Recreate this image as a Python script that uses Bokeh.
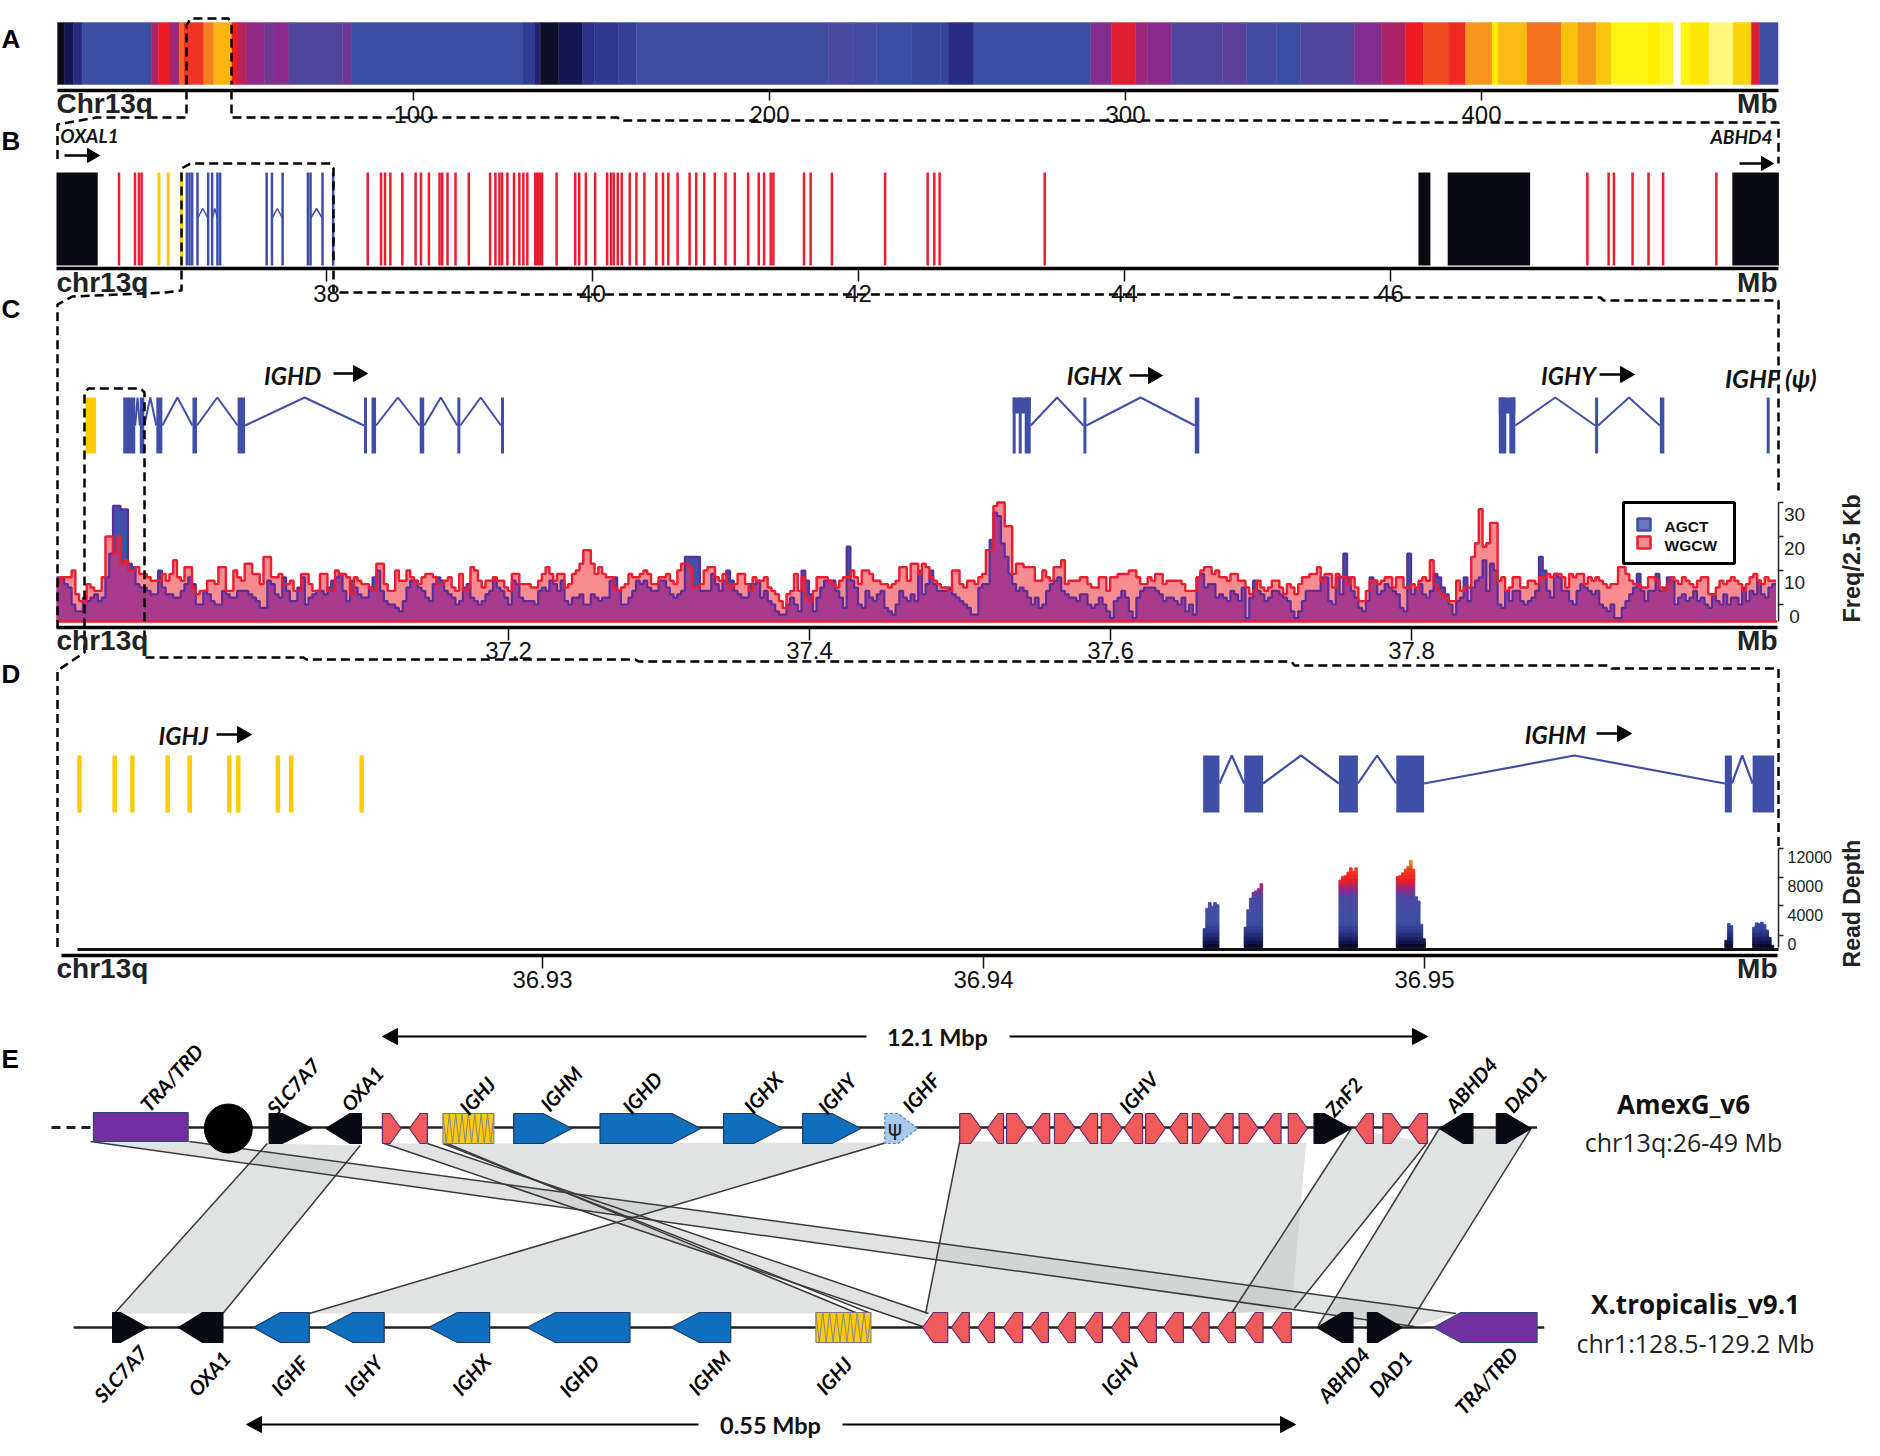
from bokeh.plotting import figure
from bokeh.models import Range1d, LinearAxis, FixedTicker, LinearColorMapper, ColumnDataSource
from bokeh.core.properties import value
from bokeh.embed import file_html
from bokeh.resources import INLINE
import numpy as np

# ---------- DATA ----------
# Panel A: density along chr13q (Mb edges, value 0..1 on the heat scale)
heat_edges = [0,1.9,4.4,6.9,26.3,28.3,31.6,34.2,35.5,41.1,43.9,49,50.7,53.2,58.2,60.8,65,80.1,82.7,130.6,134,135.7,140.7,147.5,150.8,157.6,162.6,216.5,223.2,230,240,248.1,250.2,257.4,290.2,296.1,302.9,306.2,313,327.3,334,342.4,349.2,364.3,371.9,378.6,383.7,390.9,395.5,403,404.7,412.8,422.4,427.1,432.2,436.4,446.8,450.2,453.9,456,458.6,464,470.7,475.8,478,483.3]
heat_vals = [0,.13,.2,.3,.5,.6,.48,.66,.62,.68,.75,.6,.52,.46,.4,.45,.34,.4,.3,.25,.18,.05,.13,.22,.24,.26,.31,.33,.32,.3,.28,.27,.2,.3,.44,.58,.48,.45,.34,.36,.32,.3,.34,.44,.5,.6,.64,.61,.7,.84,.76,.67,.77,.7,.78,.86,.84,.87,1.0,.86,.83,.92,.8,.58,.31]
a_ticks = [100,200,300,400]

# Panel B (Mb)
b_black = [(35.97,36.28),(46.21,46.30),(46.43,47.05),(48.57,48.92)]
b_red = [36.44,36.56,36.59,36.61,38.31,38.41,38.44,38.48,38.57,38.67,38.71,38.77,38.85,38.87,38.91,38.97,39.07,39.23,39.27,39.30,39.32,39.36,39.41,39.45,39.48,39.51,39.73,39.87,39.90,39.95,40.02,40.11,40.14,40.16,40.19,40.22,40.28,40.33,40.39,40.48,40.53,40.57,40.64,40.73,40.78,40.84,40.92,41.0,41.07,41.17,41.25,41.29,41.34,41.36,41.59,41.64,41.80,42.20,42.52,42.57,42.61,43.40,47.48,47.64,47.68,47.82,47.94,48.05,48.45]
b_red_block = (39.56,39.63)
b_yellow = [36.74,36.81,36.91]
b_blue = [36.95,36.97,36.99,37.03,37.11,37.14,37.18,37.20,37.55,37.59,37.67,37.86,37.88,37.97,38.05]
b_introns = [(37.03,37.11),(37.14,37.18),(37.59,37.67),(37.88,37.97)]
b_ticks = [38,40,42,44,46]

# Panel C (Mb)
c_yellow = [(36.919,36.926)]
c_exons = [(36.944,36.952),(36.955,36.958),(36.966,36.970),(36.990,36.993),(37.020,37.025),(37.104,37.106),(37.109,37.112),(37.141,37.144),(37.166,37.168),(37.195,37.197),
           (37.535,37.537),(37.539,37.541),(37.543,37.547),(37.582,37.584),(37.656,37.659),
           (37.858,37.863),(37.865,37.869),(37.922,37.924),(37.965,37.968),(38.036,38.038)]
c_exon_caps = [(37.535,37.547),(37.858,37.869)]
c_introns = [(36.952,36.955),(36.958,36.966),(36.970,36.990),(36.993,37.020),(37.025,37.104),(37.112,37.141),(37.144,37.166),(37.168,37.195),(37.547,37.582),(37.584,37.656),(37.869,37.922),(37.924,37.965)]
c_ticks = [37.2,37.4,37.6,37.8]
agct = [13,13,11,10,5,3,3,7,6,7,8,6,7,13,20,34,34,33,33,17,16,11,10,10,9,8,8,15,10,8,8,7,7,9,11,13,11,5,5,9,8,6,5,5,9,8,7,7,9,9,9,8,7,6,4,4,12,11,8,7,13,9,6,6,10,13,5,7,8,9,9,8,10,12,13,14,9,6,12,10,8,7,7,10,13,15,9,6,5,5,4,3,6,10,12,12,10,9,7,6,11,13,12,9,8,7,5,6,10,11,7,6,5,6,
        8,9,13,10,9,7,5,12,11,7,6,6,6,5,9,10,9,12,11,9,12,6,5,7,7,8,5,5,8,7,6,7,7,12,13,9,5,5,7,9,12,11,12,10,9,9,12,12,10,8,7,8,9,19,19,19,19,9,9,9,14,11,9,12,15,12,9,8,7,7,11,11,12,7,9,6,5,3,2,2,5,7,5,3,15,12,8,3,7,10,12,12,12,9,7,4,22,12,10,5,4,9,7,6,8,9,4,3,2,5,9,7,6,8,
        6,15,8,11,15,11,9,9,9,10,8,7,6,5,4,2,2,10,11,11,24,32,31,23,19,14,11,9,10,9,7,5,7,4,5,9,11,12,13,9,8,7,7,6,8,8,5,4,5,7,5,3,1,6,7,9,7,3,1,7,9,10,10,10,9,8,6,7,7,6,5,7,3,5,2,13,14,10,11,11,7,8,7,6,9,8,6,10,1,7,12,9,8,6,7,9,9,8,7,6,3,1,3,6,9,9,9,9,13,13,6,5,13,8,
        20,13,9,7,4,3,6,13,12,8,9,11,10,9,8,4,3,20,8,10,11,8,7,9,14,13,10,8,5,2,6,7,13,6,10,12,13,18,9,17,15,5,4,9,6,9,9,6,5,6,7,9,19,15,9,7,14,13,9,9,6,5,9,11,10,9,8,9,5,4,3,5,1,1,4,6,8,10,14,9,6,9,9,14,9,10,13,12,5,7,8,6,7,9,6,7,5,4,8,6,5,8,5,7,7,5,10,6,9,8,12,8,7,10,11]
wgcw = [11,13,13,13,15,8,6,6,11,10,9,9,13,25,25,20,25,17,18,15,15,16,14,14,13,12,12,12,14,12,14,18,13,12,16,16,10,8,9,9,12,12,11,16,16,9,9,15,13,12,17,17,14,14,11,19,19,13,13,14,11,11,12,9,9,14,14,11,9,9,14,14,9,9,15,14,14,13,8,13,12,11,11,10,9,17,17,11,9,9,15,12,12,15,13,12,11,13,14,14,13,11,11,12,13,10,9,14,9,10,16,15,12,10,
        12,12,13,12,12,10,9,14,14,11,11,11,10,10,12,14,16,14,12,14,14,10,11,14,15,17,21,21,17,14,16,14,13,13,10,9,10,11,14,13,13,14,15,14,11,11,13,13,14,12,11,15,17,17,16,10,10,11,15,16,16,13,12,14,11,10,11,14,14,11,9,13,12,12,13,10,9,8,6,4,8,9,14,9,13,7,6,9,13,13,13,12,11,10,12,13,13,15,13,11,15,15,14,12,12,11,11,10,11,12,16,16,12,17,
        17,14,17,16,13,12,11,10,10,9,15,15,11,10,12,12,11,13,14,21,21,34,35,35,28,28,14,17,17,16,16,16,12,12,15,13,12,16,16,18,11,12,12,12,13,13,11,10,10,13,13,9,13,13,14,14,14,15,15,13,11,11,13,12,14,14,11,12,12,12,12,11,9,9,9,13,15,16,16,14,15,13,13,12,14,14,12,12,10,8,9,12,10,9,10,12,12,10,8,11,10,8,11,13,13,14,14,16,12,14,14,10,14,13,
        13,11,13,10,6,6,9,12,12,11,12,13,13,10,13,13,10,10,11,10,12,13,12,18,11,9,8,7,6,6,12,9,10,10,19,23,33,22,23,29,29,12,13,9,10,13,13,10,10,12,12,11,13,13,14,13,14,14,13,10,14,13,14,14,11,13,12,13,12,11,10,11,11,16,16,14,12,11,11,10,10,13,13,12,10,9,11,13,12,11,13,12,11,10,12,13,13,8,8,10,12,11,12,13,12,11,9,11,13,14,12,11,13,12,12]
freq_start = 36.8997
freq_bin = 0.0025
freq_label_vals = [0,10,20,30]

# Panel D (Mb)
d_yellow = [36.9195,36.9203,36.9207,36.9215,36.9220,36.9229,36.9231,36.9240,36.9243,36.9259]
d_exons = [(36.94498,36.94535),(36.94591,36.94634),(36.94806,36.94849),(36.94936,36.94999),(36.95681,36.95697),(36.95744,36.95793)]
d_ticks = [36.93,36.94,36.95]
depth_starts = [36.94498,36.94591,36.94806,36.94936,36.95681,36.95744]
depth_vals = [[2600,5400,6200,5700,6200,5900],
              [2800,5200,6800,7600,7800,8100,8800],
              [9300,9800,9900,10400,11000,10500,11000],
              [9800,9900,10300,10800,11200,12000,10800,7000,6400,3200,1200],
              [1000,3300,3000],
              [2800,3400,3300,3500,3200,2400,1400,300]]
depth_col = 0.00006
depth_label_vals = [0,4000,8000,12000]

# Panel E (track units along the two genome tracks)
top_genes = [("SLC7A7",448,520,1,50,"k"),("OXA1",543,602,-1,40,"k"),("",637,668,1,18,"r"),("",682,712,-1,18,"r"),
             ("IGHM",856,953,1,48,"b"),("IGHD",1000,1168,1,48,"b"),("IGHX",1206,1304,1,48,"b"),("IGHY",1338,1435,1,48,"b"),
             ("",1600,1636,1,18,"r"),("",1646,1673,-1,18,"r"),("",1678,1713,1,18,"r"),("",1720,1750,-1,18,"r"),("",1758,1793,1,18,"r"),("",1800,1830,-1,18,"r"),("",1836,1871,1,18,"r"),("",1874,1905,-1,18,"r"),("",1910,1943,1,18,"r"),("",1950,1980,-1,18,"r"),("",1988,2018,1,18,"r"),("",2025,2056,-1,18,"r"),("",2066,2098,1,18,"r"),("",2106,2136,-1,18,"r"),("",2148,2180,1,18,"r"),
             ("ZnF2",2191,2253,1,45,"k"),("",2260,2290,-1,18,"r"),("",2306,2338,1,18,"r"),("",2348,2380,-1,18,"r"),("ABHD4",2400,2456,-1,40,"k"),("DAD1",2495,2553,1,42,"k")]
bot_genes = [("SLC7A7",187,245,1,45,"k"),("OXA1",297,371,-1,40,"k"),("IGHF",422,515,-1,45,"b"),("IGHY",540,640,-1,48,"b"),("IGHX",714,816,-1,48,"b"),("IGHD",878,1050,-1,48,"b"),("IGHM",1118,1218,-1,48,"b"),
             ("",1538,1580,-1,18,"r"),("",1586,1616,-1,18,"r"),("",1630,1658,-1,18,"r"),("",1673,1705,-1,18,"r"),("",1718,1748,-1,18,"r"),("",1763,1793,-1,18,"r"),("",1808,1838,-1,18,"r"),("",1853,1883,-1,18,"r"),("",1896,1928,-1,18,"r"),("",1940,1973,-1,18,"r"),("",1986,2016,-1,18,"r"),("",2030,2060,-1,18,"r"),("",2075,2106,-1,18,"r"),("",2120,2153,-1,18,"r"),
             ("ABHD4",2196,2256,-1,42,"k"),("DAD1",2280,2338,1,42,"k"),("TRA/TRD",2390,2563,-1,46,"p")]
top_rect = (155,313)
top_ighj = (738,823)
bot_ighj = (1360,1452)
top_ighf = (1475,1530)
top_ell = 380
top_labels = [("TRA/TRD",285,1077),("SLC7A7",488,1086),("OXA1",603,1088),("IGHJ",795,1095),("IGHM",935,1088),("IGHD",1070,1092),("IGHX",1272,1092),("IGHY",1395,1093),("IGHF",1535,1092),("IGHV",1898,1092),("ZnF2",2240,1096),("ABHD4",2453,1084),("DAD1",2543,1089)]
bot_labels = [("SLC7A7",200,1373),("OXA1",348,1373),("IGHF",482,1375),("IGHY",605,1375),("IGHX",785,1374),("IGHD",965,1375),("IGHM",1182,1372),("IGHJ",1390,1375),("IGHV",1868,1373),("ABHD4",2240,1374),("DAD1",2318,1373),("TRA/TRD",2478,1380)]
syn_x = [[150,315,2428,2358],[445,600,371,190],[745,1478,515,1430],[640,712,1548,1538],[1600,2178,2153,1543],[2253,2380,2158,2053],[2400,2553,2348,2198]]
syn_y = [[1141,1141,1313,1326],[1143,1145,1313,1313],[1143,1142,1313,1313],[1143,1143,1313,1326],[1141,1142,1312,1313],[1128,1142,1308,1313],[1128,1128,1325,1325]]
edge_x = [(150,2358),(315,2428),(445,190),(600,371),(1478,515),(640,1538),(712,1548),(738,1452),(745,1430),(1600,1543),(2253,2053),(2380,2158),(2400,2198),(2553,2348)]
edge_y = [(1141,1326),(1141,1313),(1143,1313),(1145,1313),(1142,1313),(1143,1326),(1143,1313),(1143,1313),(1143,1313),(1141,1313),(1128,1313),(1142,1308),(1128,1325),(1128,1325)]

# ---------- COLOURS ----------
BLUE="#3F4FA8"; YEL="#FFCB05"; RED="#ED1C2E"; BLK="#0A0A14"
def interp_palette(stops, n=256):
    xs=[s[0] for s in stops]
    cs=np.array([[int(s[1][i:i+2],16) for i in (1,3,5)] for s in stops],float)
    t=np.linspace(xs[0],xs[-1],n)
    return ["#%02x%02x%02x"%tuple(int(round(np.interp(v,xs,cs[:,k]))) for k in range(3)) for v in t]
heat_pal = interp_palette([(0,"#0a0a14"),(.13,"#15154f"),(.2,"#272a80"),(.3,"#3b50a3"),(.45,"#8a2a8e"),(.6,"#ed1c24"),(.7,"#f7941d"),(.85,"#fff200"),(1,"#ffffff")])
depth_pal = interp_palette([(0,"#05051e"),(800,"#15154f"),(2000,"#2a3585"),(3500,"#3b50a3"),(7000,"#4a4aa0"),(8000,"#8a2a8e"),(9300,"#ed1c24"),(11000,"#f04020"),(12000,"#f7941d")])

# ---------- FIGURE ----------
LO,HI,YB,YT = 0,1864,1440,0
p = figure(width=HI-LO,height=YB-YT,x_range=(LO,HI),y_range=(YB,YT),x_axis_type=None,y_axis_type=None,
           toolbar_location=None,output_backend="svg",min_border=0,outline_line_color=None,background_fill_color="white")
p.grid.visible=False

def xr(p0,v0,p1,v1):
    k=(v1-v0)/(p1-p0); return Range1d(v0+(LO-p0)*k, v0+(HI-p0)*k)
def yr(p0,v0,p1,v1):
    k=(v1-v0)/(p1-p0); return Range1d(v0+(YB-p0)*k, v0+(YT-p0)*k)
p.extra_x_ranges = {"A":xr(413,100,1481,400),"B":xr(326,38,1390,46),"C":xr(508,37.2,1411,37.8),"D":xr(542,36.93,1424,36.95),"tr":Range1d(LO*1.668,HI*1.668)}
p.extra_y_ranges = {"freq":yr(621,0,587,10),"depth":yr(947,0,918,4000)}

AX="Liberation Sans"; GEN="Lato"; SIDE="Open Sans"
def txt(x,y,s,size,font=AX,style="normal",align="center",base="middle",angle=0,color="#111111",xn="default",yn="default"):
    p.text([x],[y],text=[s],text_font=value(font),text_font_size=f"{size}px",text_font_style=style,text_align=align,
           text_baseline=base,angle=angle,text_color=color,x_range_name=xn,y_range_name=yn)
def arrow(x0,x1,y,head=15,hh=8,w=2.5):
    d=1 if x1>x0 else -1
    p.line([x0,x1-d*head],[y,y],line_color="black",line_width=w)
    p.patch([x1-d*head,x1,x1-d*head],[y-hh,y,y+hh],fill_color="black",line_color="black")
def stair(start,w,vals):
    xs=[];ys=[]
    for i,v in enumerate(vals):
        xs+= [start+i*w,start+(i+1)*w]; ys+=[v,v]
    return xs,ys
def htick_axis(name,loc,ticks,bounds,tick_out,standoff):
    ax=LinearAxis(x_range_name=name,ticker=FixedTicker(ticks=ticks),fixed_location=loc,bounds=bounds,
        axis_line_width=3.5,axis_line_color="black",major_tick_line_color="#111111",major_tick_line_width=1.5,
        major_tick_out=tick_out,major_tick_in=0,minor_tick_out=0,minor_tick_in=0,major_label_standoff=standoff,
        major_label_text_font=AX,major_label_text_font_size="24px",major_label_text_color="#111111")
    p.add_layout(ax,"below")

# Panel A
hm = LinearColorMapper(palette=heat_pal,low=0,high=1)
hs=ColumnDataSource(dict(l=heat_edges[:-1],r=heat_edges[1:],t=[22]*len(heat_vals),b=[84]*len(heat_vals),v=heat_vals))
p.quad(left="l",right="r",top="t",bottom="b",source=hs,fill_color={"field":"v","transform":hm},line_color={"field":"v","transform":hm},line_width=.4,x_range_name="A")
htick_axis("A",90,a_ticks,(0,483.3),10,5)
htick_axis("B",268,b_ticks,(35.97,48.92),13,3)
htick_axis("C",627,c_ticks,(36.8997,38.043),13,1)
htick_axis("D",955,d_ticks,(36.9191,36.958),13,2)

# Panel B
bk=list(zip(*b_black))
p.quad(left=list(bk[0]),right=list(bk[1]),top=[172]*4,bottom=[265]*4,fill_color=BLK,line_color=None,x_range_name="B")
p.segment(b_red,[172]*len(b_red),b_red,[265]*len(b_red),line_color=RED,line_width=2.5,x_range_name="B")
p.quad(left=[b_red_block[0]],right=[b_red_block[1]],top=[172],bottom=[265],fill_color=RED,line_color=None,x_range_name="B")
p.segment(b_yellow,[172]*3,b_yellow,[265]*3,line_color=YEL,line_width=3,x_range_name="B")
p.segment(b_blue,[172]*len(b_blue),b_blue,[265]*len(b_blue),line_color=BLUE,line_width=2.5,x_range_name="B")
p.multi_line([[a,(a+b)/2,b] for a,b in b_introns],[[218,208,218]]*len(b_introns),line_color=BLUE,line_width=1.5,x_range_name="B")

# Panel C genes
def qlist(L,top,bottom,color,xn):
    a=[u for u,_ in L]; b=[v for _,v in L]
    p.quad(left=a,right=b,top=[top]*len(L),bottom=[bottom]*len(L),fill_color=color,line_color=None,x_range_name=xn)
qlist(c_yellow,397,453,YEL,"C")
qlist(c_exons,397,453,BLUE,"C")
qlist(c_exon_caps,397,413,BLUE,"C")
p.multi_line([[a,(a+b)/2,b] for a,b in c_introns],[[425,397,425]]*len(c_introns),line_color=BLUE,line_width=2,x_range_name="C")

# Panel C histogram
sx,by=stair(freq_start,freq_bin,agct)
sx2,ry=stair(freq_start,freq_bin,wgcw)
_,my=stair(freq_start,freq_bin,[min(a,b) for a,b in zip(agct,wgcw)])
def fill(xs,ys,c):
    p.patch([xs[0]]+xs+[xs[-1]],[0]+ys+[0],fill_color=c,line_color=None,x_range_name="C",y_range_name="freq")
fill(sx,by,"#3F51A8"); fill(sx2,ry,"#F68B90"); fill(sx,my,"#A83A8C")
p.line(sx,by,line_color="#5B2E9B",line_width=2.2,x_range_name="C",y_range_name="freq")
p.line(sx2,ry,line_color=RED,line_width=2.4,x_range_name="C",y_range_name="freq")
p.line([freq_start,38.043],[0,0],line_color=RED,line_width=2.5,x_range_name="C",y_range_name="freq")

fa=LinearAxis(y_range_name="freq",ticker=FixedTicker(ticks=[5,15,25,35]),fixed_location=1778,bounds=(0,35),
    axis_line_color="#222222",axis_line_width=1.5,major_tick_line_color="#222222",major_tick_line_width=1.5,major_tick_out=5,major_tick_in=0,
    minor_tick_out=0,minor_tick_in=0,major_label_text_font_size="0px",major_label_text_color=None)
p.add_layout(fa,"right")
for v in freq_label_vals:
    txt(1794,v+1.5,str(v),19,yn="freq",color="#222222")
da=LinearAxis(y_range_name="depth",ticker=FixedTicker(ticks=[1650,5800,9650,13650]),fixed_location=1778,bounds=(0,13650),
    axis_line_color="#222222",axis_line_width=1.5,major_tick_line_color="#222222",major_tick_line_width=1.5,major_tick_out=5,major_tick_in=0,
    minor_tick_out=0,minor_tick_in=0,major_label_text_font_size="0px",major_label_text_color=None)
p.add_layout(da,"right")
for v in depth_label_vals:
    txt(1787,v+500,str(v),16,align="left",yn="depth",color="#222222")

# Legend
p.quad(left=[1623],right=[1734],top=[502],bottom=[563],fill_color="white",line_color="black",line_width=3)
p.quad(left=[1637],right=[1650],top=[518],bottom=[530],fill_color="#6A76BE",line_color=BLUE,line_width=2.5)
p.quad(left=[1637],right=[1650],top=[536],bottom=[548],fill_color="#F68B90",line_color=RED,line_width=2.5)
txt(1664,526,"AGCT",15.5,style="bold",align="left")
txt(1664,545,"WGCW",15.5,style="bold",align="left")

# Panel D
d=[x for x in d_yellow]
p.segment(d,[755]*len(d),d,[812]*len(d),line_color=YEL,line_width=4.5,x_range_name="D")
qlist(d_exons,755,812,BLUE,"D")
d_int=[(d_exons[i][1],d_exons[i+1][0]) for i in range(len(d_exons)-1)]
p.multi_line([[a,(a+b)/2,b] for a,b in d_int],[[783,755,783]]*len(d_int),line_color=BLUE,line_width=2.2,x_range_name="D")
dl,dr,dt,db,dv=[],[],[],[],[]
band=500
for st,vals in zip(depth_starts,depth_vals):
    for i,h in enumerate(vals):
        lev=0
        while lev<h:
            tp=min(lev+band,h)
            dl.append(st+i*depth_col);dr.append(st+(i+1)*depth_col);db.append(lev);dt.append(tp);dv.append(lev+band/2)
            lev+=band
dm=LinearColorMapper(palette=depth_pal,low=0,high=12000)
ds=ColumnDataSource(dict(l=dl,r=dr,t=dt,b=db,v=dv))
p.quad(left="l",right="r",top="t",bottom="b",source=ds,fill_color={"field":"v","transform":dm},line_color={"field":"v","transform":dm},line_width=.9,x_range_name="D",y_range_name="depth")
p.line([77,1778],[949,949],line_color="#111111",line_width=3)

# Dashed zoom guides
def dash(x,y,w=2.5):
    p.line(x,y,line_color="black",line_width=w,line_dash="9 5")
dash([186,186,190,228,231,231],[84,25,18,18,25,84])
dash([231,231,617,620,1390,1393,1778,1778],[90,117,117,120,120,122,122,163])
dash([186,186,96,57,57],[90,117,117,124,163])
dash([181,181,190,330,333,333],[265,168,163,163,168,265])
dash([333,333,516,519,1231,1234,1600,1603,1778,1778],[270,292,292,294,294,297,297,300,300,490])
dash([181,181,165,72,57,57],[270,290,292,296,304,627])
dash([84,84,88,140,144,144],[627,392,388,388,392,627])
dash([144,144,303,306,635,638,1291,1294,1608,1611,1778,1778],[630,657,657,659,659,661,661,665,665,668,668,848])
dash([84,84,72,57,57],[630,652,660,670,949])

# Axis end texts
for lbl,y in (("Chr13q",103),("chr13q",282),("chr13q",640),("chr13q",968)):
    txt(56,y,lbl,28,style="bold",align="left",base="alphabetic",color="#222222")
for y in (103,282,640,968):
    txt(1777,y,"Mb",28,style="bold",align="right",base="alphabetic",color="#222222")

# Panel letters
for l,y in (("A",38),("B",140),("C",308),("D",673),("E",1058)):
    txt(1,y,l,26,style="bold",align="left",color="black")

# Gene labels A-D
txt(89,135,"OXAL1",19,GEN,"bold italic")
txt(1741,136,"ABHD4",19,GEN,"bold italic")
arrow(64,99,155,head=12,hh=7); arrow(1739,1773,163,head=12,hh=7)
txt(292,375,"IGHD",24,GEN,"bold italic"); arrow(333,367,373,head=14,hh=8)
txt(1094,375,"IGHX",24,GEN,"bold italic"); arrow(1129,1162,375,head=14,hh=8)
txt(1568,375,"IGHY",24,GEN,"bold italic"); arrow(1599,1634,374,head=14,hh=8)
txt(1770,377,"IGHF (\u03c8)",25,GEN,"bold italic")
txt(183,735,"IGHJ",24,GEN,"bold italic"); arrow(216,251,734,head=14,hh=8)
txt(1555,734,"IGHM",24,GEN,"bold italic"); arrow(1596,1631,733,head=14,hh=8)
txt(1851,558,"Freq/2.5 Kb",23.5,style="bold",angle=np.pi/2,color="#222222")
txt(1851,903,"Read Depth",23,style="bold",angle=np.pi/2,color="#222222")

# Panel E
p.patches(syn_x,syn_y,fill_color="#c8caca",fill_alpha=.55,line_color=None,x_range_name="tr")
p.multi_line([list(e) for e in edge_x],[list(e) for e in edge_y],line_color="#3a3a3a",line_width=1.5,x_range_name="tr")
p.line([85,155],[1127,1127],line_color="#222222",line_width=3,line_dash="9 6",x_range_name="tr")
p.line([155,2563],[1127,1127],line_color="#222222",line_width=2.5,x_range_name="tr")
p.line([122,2575],[1327,1327],line_color="#222222",line_width=2.5,x_range_name="tr")
FILL={"k":BLK,"r":"#F15A5A","b":"#0F6FBE","p":"#7030A0"}
EDGE={"k":BLK,"r":"#5B2A6E","b":"#1F3864","p":"#2E4A6B"}
def gene(g,yc,hh=15):
    _,a,b,s,tip,k=g
    if s>0:
        xs=[a,b-tip,b,b-tip,a]
    else:
        xs=[b,a+tip,a,a+tip,b]
    p.patch(xs,[yc-hh,yc-hh,yc,yc+hh,yc+hh],fill_color=FILL[k],line_color=EDGE[k],line_width=1.2,x_range_name="tr")
for g in top_genes: gene(g,1128)
for g in bot_genes: gene(g,1327)
p.quad(left=[top_rect[0]],right=[top_rect[1]],top=[1112],bottom=[1141],fill_color="#7030A0",line_color="#2E4A6B",line_width=1.2,x_range_name="tr")
p.ellipse([top_ell],[1128],width=[80],height=[49],fill_color="black",line_color="black",x_range_name="tr")
def ighj(rng,yc):
    a,b=rng
    p.quad(left=[a],right=[b],top=[yc-15],bottom=[yc+15],fill_color=YEL,line_color="#777777",line_width=1,x_range_name="tr")
    n=16; xs=[a+(b-a)*i/n for i in range(n+1)]; ys=[(yc-15) if i%2==0 else (yc+15) for i in range(n+1)]
    p.line(xs,ys,line_color="#888888",line_width=1,x_range_name="tr")
ighj(top_ighj,1128); ighj(bot_ighj,1327)
a,b=top_ighf
p.patch([a,a+22,b,a+22,a],[1113,1113,1128,1143,1143],fill_color="#A8C8EC",line_color="#4F81BD",line_width=1.2,line_dash="3 2",x_range_name="tr")
txt(a+17,1128,"\u03c8",22,"DejaVu Sans",xn="tr",color="#222222")

for name,x,y in top_labels+bot_labels:
    txt(x,y,name,20,GEN,"bold italic",angle=np.radians(48),xn="tr",color="black")
txt(1683,1103,"AmexG_v6",26,SIDE,"bold",color="#111111")
txt(1683,1141,"chr13q:26-49 Mb",25,SIDE,color="#222222")
txt(1695,1303,"X.tropicalis_v9.1",26,SIDE,"bold",color="#111111")
txt(1695,1342,"chr1:128.5-129.2 Mb",25,SIDE,color="#222222")
txt(937,1036,"12.1 Mbp",23.5,GEN,"bold",color="#111111")
txt(770,1424,"0.55 Mbp",23.5,GEN,"bold",color="#111111")
arrow(866,382,1036,head=15,hh=8,w=2); arrow(1009,1427,1036,head=15,hh=8,w=2)
arrow(698,246,1424,head=15,hh=8,w=2); arrow(842,1295,1424,head=15,hh=8,w=2)

open("out.html","w").write(file_html(p,INLINE))
